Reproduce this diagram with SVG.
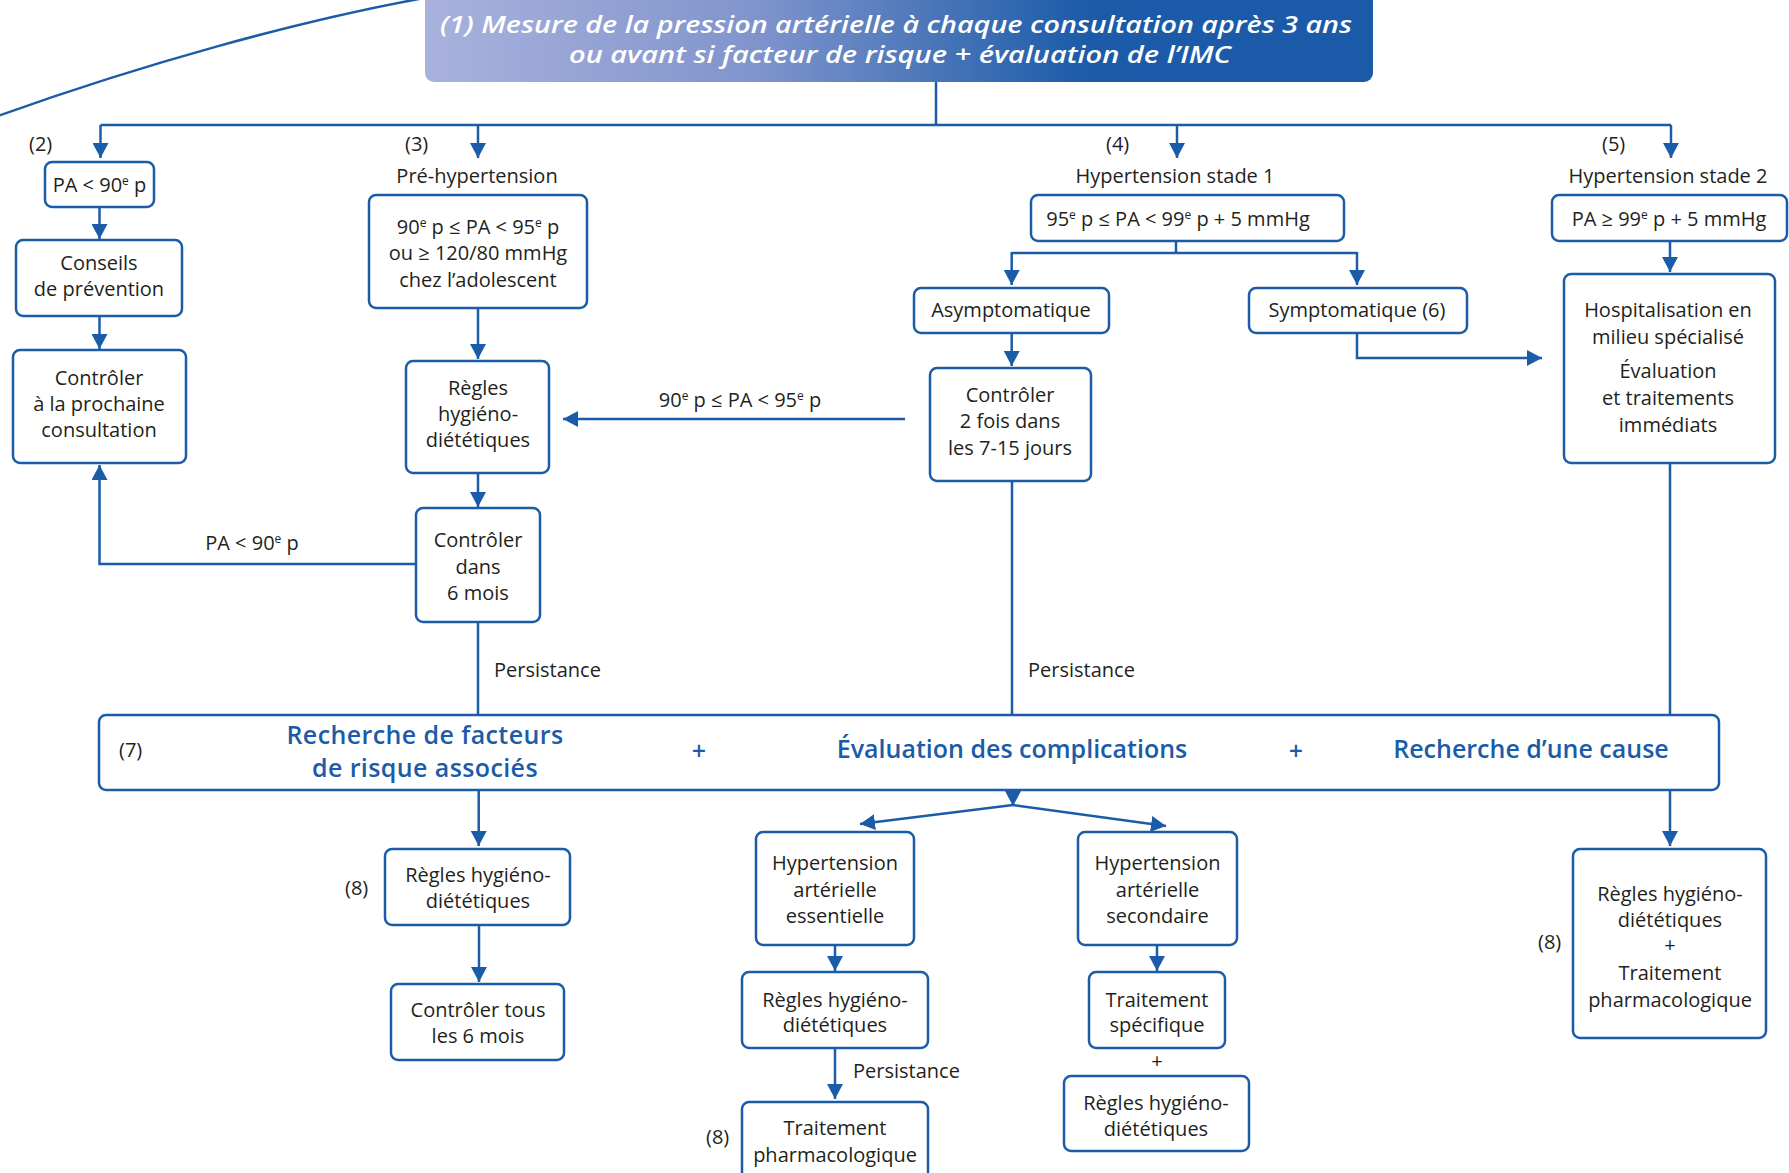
<svg xmlns="http://www.w3.org/2000/svg" width="1789" height="1173" viewBox="0 0 1789 1173">
<defs>
<linearGradient id="hdr" x1="425" y1="0" x2="1373" y2="0" gradientUnits="userSpaceOnUse">
<stop offset="0" stop-color="#a9b2dd"/>
<stop offset="0.35" stop-color="#8094cc"/>
<stop offset="0.7" stop-color="#1b5ba8"/>
<stop offset="1" stop-color="#1a5aa8"/>
</linearGradient>
<marker id="ar" markerUnits="userSpaceOnUse" markerWidth="16" markerHeight="16" refX="15" refY="8" orient="auto">
<path d="M0,0 L15,8 L0,16 z" fill="#1b5ca8"/>
</marker>
</defs>
<style>
.box{fill:#fff;stroke:#1b5ca8;stroke-width:2.5}
.ln{fill:none;stroke:#1b5ca8;stroke-width:2.5}
.ar{marker-end:url(#ar)}
.t{font-family:'Open Sans','DejaVu Sans',sans-serif;font-size:20px;fill:#231f20;text-anchor:middle}
.l{font-family:'Open Sans','DejaVu Sans',sans-serif;font-size:20px;fill:#231f20}
.sup{font-size:12px}
.b{font-family:'Open Sans','DejaVu Sans',sans-serif;font-size:25px;font-weight:600;fill:#1b5ca8;text-anchor:middle}
.h{font-family:'Open Sans','DejaVu Sans',sans-serif;font-size:24px;font-weight:600;font-style:italic;fill:#fff;text-anchor:middle}
</style>
<rect width="1789" height="1173" fill="#fff"/>

<g id="connectors">
<path class="ln" d="M-5,117 C140,65 300,20 430,-3" stroke-width="2"/>
<path class="ln" d="M936,82 V125"/>
<path class="ln" d="M100.5,125 H1671"/>
<path class="ln ar" d="M100.5,125 V158"/>
<path class="ln ar" d="M478,125 V158"/>
<path class="ln ar" d="M1177,125 V158"/>
<path class="ln ar" d="M1671,125 V158"/>
<path class="ln ar" d="M99.5,207 V239"/>
<path class="ln ar" d="M99.5,316 V349"/>
<path class="ln ar" d="M416,564 H99.5 V465"/>
<path class="ln ar" d="M478,308 V359"/>
<path class="ln ar" d="M478,473 V507"/>
<path class="ln" d="M478,622 V715"/>
<path class="ln ar" d="M905,419 H563"/>
<path class="ln" d="M1176,241 V253 M1011.7,253 H1357"/>
<path class="ln ar" d="M1011.7,252 V285"/>
<path class="ln ar" d="M1357,252 V285"/>
<path class="ln ar" d="M1011.7,333 V366"/>
<path class="ln" d="M1012,481 V715"/>
<path class="ln ar" d="M1357,333 V358 H1542"/>
<path class="ln ar" d="M1670,241 V272"/>
<path class="ln" d="M1670,463 V715"/>
<path class="ln ar" d="M478.7,790 V846"/>
<path class="ln ar" d="M479,925 V982"/>
<path class="ln ar" d="M1013,790 V806"/>
<path class="ln ar" d="M1013,805 L860,824"/>
<path class="ln ar" d="M1013,805 L1166,826"/>
<path class="ln ar" d="M835,945 V971"/>
<path class="ln ar" d="M835,1048 V1099"/>
<path class="ln ar" d="M1157,945 V971"/>
<path class="ln ar" d="M1670,790 V846"/>
</g>

<g id="header">
<rect x="425" y="-12" width="948" height="94" rx="9" fill="url(#hdr)"/>
<text class="h" x="896" y="33" textLength="912" lengthAdjust="spacingAndGlyphs">(1) Mesure de la pression artérielle à chaque consultation après 3 ans</text>
<text class="h" x="900" y="63" textLength="662" lengthAdjust="spacingAndGlyphs">ou avant si facteur de risque + évaluation de l’IMC</text>
</g>

<g id="labels">
<text class="l" x="29" y="151">(2)</text>
<text class="l" x="405" y="151">(3)</text>
<text class="l" x="1106" y="151">(4)</text>
<text class="l" x="1602" y="151">(5)</text>
<text class="t" x="477" y="183">Pré-hypertension</text>
<text class="t" x="1175" y="183">Hypertension stade 1</text>
<text class="t" x="1668" y="183">Hypertension stade 2</text>
<text class="t" x="252" y="550">PA &lt; 90<tspan class="sup" dy="-7">e</tspan><tspan dy="7"> p</tspan></text>
<text class="t" x="740" y="407">90<tspan class="sup" dy="-7">e</tspan><tspan dy="7"> p ≤ PA &lt; 95</tspan><tspan class="sup" dy="-7">e</tspan><tspan dy="7"> p</tspan></text>
<text class="l" x="494" y="677">Persistance</text>
<text class="l" x="1028" y="677">Persistance</text>
<text class="l" x="853" y="1078">Persistance</text>
<text class="l" x="345" y="895">(8)</text>
<text class="l" x="706" y="1144">(8)</text>
<text class="l" x="1538" y="949">(8)</text>
<text class="t" x="1157" y="1068" font-size="15">+</text>
</g>

<g id="n-pa90">
<rect class="box" x="45" y="162" width="109" height="45" rx="7"/>
<text class="t" x="99.5" y="192">PA &lt; 90<tspan class="sup" dy="-7">e</tspan><tspan dy="7"> p</tspan></text>
</g>
<g id="n-conseils">
<rect class="box" x="16" y="240" width="166" height="76" rx="7"/>
<text class="t" x="99" y="270">Conseils</text>
<text class="t" x="99" y="296">de prévention</text>
</g>
<g id="n-controler-prochaine">
<rect class="box" x="13" y="350" width="173" height="113" rx="7"/>
<text class="t" x="99" y="385">Contrôler</text>
<text class="t" x="99" y="411">à la prochaine</text>
<text class="t" x="99" y="437">consultation</text>
</g>
<g id="n-prehyp">
<rect class="box" x="369" y="195" width="218" height="113" rx="7"/>
<text class="t" x="478" y="234">90<tspan class="sup" dy="-7">e</tspan><tspan dy="7"> p ≤ PA &lt; 95</tspan><tspan class="sup" dy="-7">e</tspan><tspan dy="7"> p</tspan></text>
<text class="t" x="478" y="260">ou ≥ 120/80 mmHg</text>
<text class="t" x="478" y="287">chez l’adolescent</text>
</g>
<g id="n-regles1">
<rect class="box" x="406" y="361" width="143" height="112" rx="7"/>
<text class="t" x="478" y="395">Règles</text>
<text class="t" x="478" y="421">hygiéno-</text>
<text class="t" x="478" y="447">diététiques</text>
</g>
<g id="n-controler6">
<rect class="box" x="416" y="508" width="124" height="114" rx="7"/>
<text class="t" x="478" y="547">Contrôler</text>
<text class="t" x="478" y="574">dans</text>
<text class="t" x="478" y="600">6 mois</text>
</g>
<g id="n-stade1">
<rect class="box" x="1031" y="195" width="313" height="46" rx="7"/>
<text class="t" x="1178" y="226">95<tspan class="sup" dy="-7">e</tspan><tspan dy="7"> p ≤ PA &lt; 99</tspan><tspan class="sup" dy="-7">e</tspan><tspan dy="7"> p + 5 mmHg</tspan></text>
</g>
<g id="n-asympt">
<rect class="box" x="914" y="288" width="195" height="45" rx="7"/>
<text class="t" x="1011" y="317">Asymptomatique</text>
</g>
<g id="n-sympt">
<rect class="box" x="1249" y="288" width="218" height="45" rx="7"/>
<text class="t" x="1357" y="317">Symptomatique (6)</text>
</g>
<g id="n-controler2">
<rect class="box" x="930" y="368" width="161" height="113" rx="7"/>
<text class="t" x="1010" y="402">Contrôler</text>
<text class="t" x="1010" y="428">2 fois dans</text>
<text class="t" x="1010" y="455">les 7-15 jours</text>
</g>
<g id="n-stade2">
<rect class="box" x="1552" y="195" width="235" height="46" rx="7"/>
<text class="t" x="1669" y="226">PA ≥ 99<tspan class="sup" dy="-7">e</tspan><tspan dy="7"> p + 5 mmHg</tspan></text>
</g>
<g id="n-hosp">
<rect class="box" x="1564" y="274" width="211" height="189" rx="7"/>
<text class="t" x="1668" y="317">Hospitalisation en</text>
<text class="t" x="1668" y="344">milieu spécialisé</text>
<text class="t" x="1668" y="378">Évaluation</text>
<text class="t" x="1668" y="405">et traitements</text>
<text class="t" x="1668" y="432">immédiats</text>
</g>
<g id="n-bilan">
<rect class="box" x="99" y="715" width="1620" height="75" rx="7"/>
<text class="l" x="119" y="757">(7)</text>
<text class="b" x="425" y="744" font-size="24" letter-spacing="0.4">Recherche de facteurs</text>
<text class="b" x="425" y="777" font-size="24" letter-spacing="0.4">de risque associés</text>
<text class="b" x="699" y="760" font-size="22">+</text>
<text class="b" x="1012" y="758">Évaluation des complications</text>
<text class="b" x="1296" y="760" font-size="22">+</text>
<text class="b" x="1531" y="758">Recherche d’une cause</text>
</g>
<g id="n-regles8a">
<rect class="box" x="385" y="849" width="185" height="76" rx="7"/>
<text class="t" x="478" y="882">Règles hygiéno-</text>
<text class="t" x="478" y="908">diététiques</text>
</g>
<g id="n-controler-tous">
<rect class="box" x="391" y="984" width="173" height="76" rx="7"/>
<text class="t" x="478" y="1017">Contrôler tous</text>
<text class="t" x="478" y="1043">les 6 mois</text>
</g>
<g id="n-hta-ess">
<rect class="box" x="756" y="832" width="158" height="113" rx="7"/>
<text class="t" x="835" y="870">Hypertension</text>
<text class="t" x="835" y="897">artérielle</text>
<text class="t" x="835" y="923">essentielle</text>
</g>
<g id="n-regles-ess">
<rect class="box" x="742" y="972" width="186" height="76" rx="7"/>
<text class="t" x="835" y="1007">Règles hygiéno-</text>
<text class="t" x="835" y="1032">diététiques</text>
</g>
<g id="n-pharm">
<rect class="box" x="742" y="1102" width="186" height="90" rx="7"/>
<text class="t" x="835" y="1135">Traitement</text>
<text class="t" x="835" y="1162">pharmacologique</text>
</g>
<g id="n-hta-sec">
<rect class="box" x="1078" y="832" width="159" height="113" rx="7"/>
<text class="t" x="1157.5" y="870">Hypertension</text>
<text class="t" x="1157.5" y="897">artérielle</text>
<text class="t" x="1157.5" y="923">secondaire</text>
</g>
<g id="n-specifique">
<rect class="box" x="1089" y="972" width="136" height="76" rx="7"/>
<text class="t" x="1157" y="1007">Traitement</text>
<text class="t" x="1157" y="1032">spécifique</text>
</g>
<g id="n-regles-sec">
<rect class="box" x="1064" y="1076" width="185" height="75" rx="7"/>
<text class="t" x="1156" y="1110">Règles hygiéno-</text>
<text class="t" x="1156" y="1136">diététiques</text>
</g>
<g id="n-regles-pharm">
<rect class="box" x="1573" y="849" width="193" height="189" rx="7"/>
<text class="t" x="1670" y="901">Règles hygiéno-</text>
<text class="t" x="1670" y="927">diététiques</text>
<text class="t" x="1670" y="952" font-size="15">+</text>
<text class="t" x="1670" y="980">Traitement</text>
<text class="t" x="1670" y="1007">pharmacologique</text>
</g>
</svg>
